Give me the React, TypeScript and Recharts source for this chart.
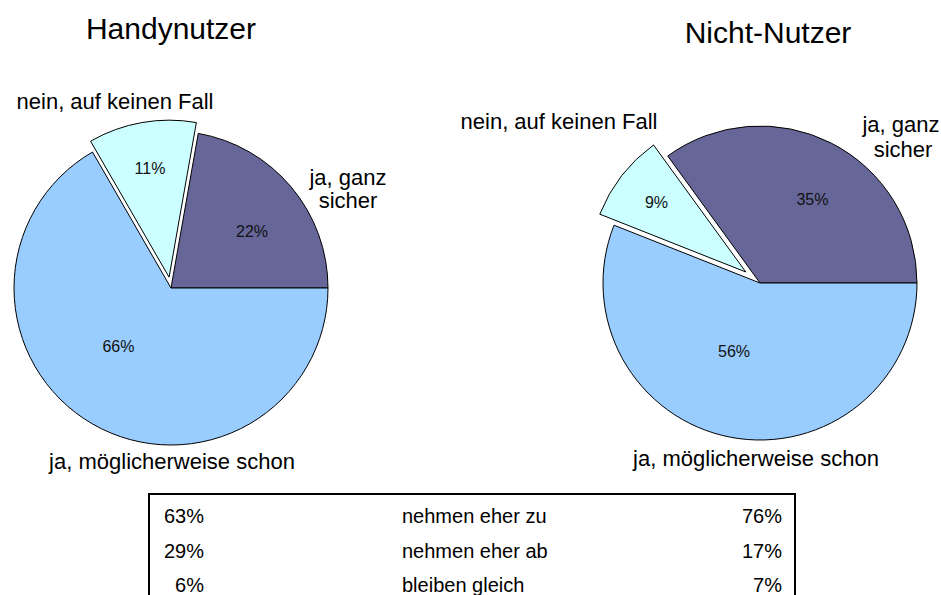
import React from "react";
import { PieChart, Pie, Cell } from "recharts";

const categories = ["ja, ganz sicher", "nein, auf keinen Fall", "ja, möglicherweise schon"];
const handyValues = [22, 11, 66];
const nichtValues = [35, 9, 56];
const titles = ["Handynutzer", "Nicht-Nutzer"];

const trendLabels = ["nehmen eher zu", "nehmen eher ab", "bleiben gleich"];
const handyTrend = ["63%", "29%", "6%"];
const nichtTrend = ["76%", "17%", "7%"];

const colors = ["#666699", "#CCFFFF", "#99CCFF"];
const EXPLODED = 1; // "nein, auf keinen Fall" is pulled out
const FONT = "'Liberation Sans', Arial, Helvetica, sans-serif";

const toData = (vals: number[]) => categories.map((name, i) => ({ name, value: vals[i] }));

// center of the pulled-out slice, moved along its mid angle
function explodedCenter(vals: number[], cx: number, cy: number, off: number) {
  const total = vals.reduce((a, b) => a + b, 0);
  const before = vals.slice(0, EXPLODED).reduce((a, b) => a + b, 0);
  const mid = ((before + vals[EXPLODED] / 2) / total) * 360;
  const rad = (mid * Math.PI) / 180;
  return { x: cx + off * Math.cos(rad), y: cy - off * Math.sin(rad) };
}

// label radius (fraction of outer radius) and small angle nudge per slice
const pctLabel = (show: (i: number) => boolean, factors: number[], nudges: number[]) => (props: any) => {
  const { cx, cy, midAngle, outerRadius, index, value } = props;
  if (!show(index)) return null;
  const r = outerRadius * factors[index];
  const a = (-(midAngle + nudges[index]) * Math.PI) / 180;
  return (
    <text
      x={cx + r * Math.cos(a)}
      y={cy + r * Math.sin(a)}
      textAnchor="middle"
      dominantBaseline="central"
      fill="#111"
      fontSize={16}
      fontFamily={FONT}
    >
      {value}%
    </text>
  );
};

function ExplodedPie({ vals, cx, cy, r, off, factors, nudges }: any) {
  const data = toData(vals);
  const ex = explodedCenter(vals, cx, cy, off);
  return [
    <Pie
      key="main"
      data={data}
      dataKey="value"
      cx={cx}
      cy={cy}
      outerRadius={r}
      labelLine={false}
      label={pctLabel((i) => i !== EXPLODED, factors, nudges)}
      isAnimationActive={false}
    >
      {data.map((d, i) => (
        <Cell
          key={d.name}
          fill={i === EXPLODED ? "none" : colors[i]}
          stroke={i === EXPLODED ? "none" : "#000"}
          strokeWidth={1}
        />
      ))}
    </Pie>,
    <Pie
      key="ex"
      data={data}
      dataKey="value"
      cx={ex.x}
      cy={ex.y}
      outerRadius={r}
      labelLine={false}
      label={pctLabel((i) => i === EXPLODED, factors, nudges)}
      isAnimationActive={false}
    >
      {data.map((d, i) => (
        <Cell
          key={d.name}
          fill={i === EXPLODED ? colors[i] : "none"}
          stroke={i === EXPLODED ? "#000" : "none"}
          strokeWidth={1}
        />
      ))}
    </Pie>,
  ];
}

// text placed by baseline and horizontal center
function Txt({ x, base, size, children }: any) {
  const lh = size * 1.1;
  return (
    <div
      style={{
        position: "absolute",
        left: x - 200,
        width: 400,
        top: base - (lh - size * 1.117) / 2 - size * 0.905,
        textAlign: "center",
        fontSize: size,
        lineHeight: `${lh}px`,
        whiteSpace: "nowrap",
        color: "#000",
      }}
    >
      {children}
    </div>
  );
}

export default function App() {
  return (
    <div
      style={{
        position: "absolute",
        left: 0,
        top: 0,
        width: 941,
        height: 595,
        overflow: "hidden",
        background: "#fff",
        fontFamily: FONT,
      }}
    >
      <PieChart width={941} height={480} margin={{ top: 0, right: 0, bottom: 0, left: 0 }}>
        {ExplodedPie({
          vals: handyValues, cx: 171, cy: 288, r: 157, off: 11,
          factors: [0.63, 0.7, 0.5], nudges: [-5, 0, -12],
        })}
        {ExplodedPie({
          vals: nichtValues, cx: 760, cy: 283, r: 157, off: 18,
          factors: [0.63, 0.72, 0.465], nudges: [-5, 0, -10],
        })}
      </PieChart>

      <Txt x={171} base={39} size={30}>{titles[0]}</Txt>
      <Txt x={768} base={43} size={30}>{titles[1]}</Txt>

      <Txt x={115} base={110} size={22}>{categories[1]}</Txt>
      <Txt x={348} base={186} size={22}>ja, ganz</Txt>
      <Txt x={348} base={209} size={22}>sicher</Txt>
      <Txt x={172} base={470} size={22}>{categories[2]}</Txt>

      <Txt x={559} base={130} size={22}>{categories[1]}</Txt>
      <Txt x={901} base={133} size={22}>ja, ganz</Txt>
      <Txt x={903} base={158} size={22}>sicher</Txt>
      <Txt x={756} base={467} size={22}>{categories[2]}</Txt>

      <div
        style={{
          position: "absolute",
          left: 148,
          top: 493,
          width: 648,
          height: 130,
          border: "2px solid #000",
          boxSizing: "border-box",
          fontSize: 20,
        }}
      >
        {trendLabels.map((t, i) => (
          <div key={t} style={{ position: "absolute", top: 5 + i * 34.5, left: 0, width: "100%", height: 32, lineHeight: "32px" }}>
            <span style={{ position: "absolute", right: 644 - 54, textAlign: "right" }}>{handyTrend[i]}</span>
            <span style={{ position: "absolute", left: 252 }}>{t}</span>
            <span style={{ position: "absolute", right: 12 }}>{nichtTrend[i]}</span>
          </div>
        ))}
      </div>
    </div>
  );
}
